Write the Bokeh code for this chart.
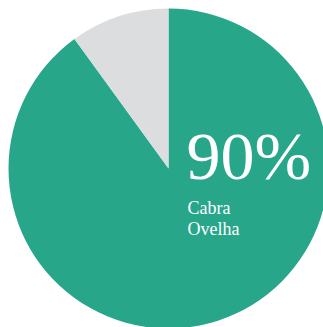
import math
from bokeh.plotting import figure
from bokeh.models import ColumnDataSource
from bokeh.core.properties import value
from bokeh.embed import file_html
from bokeh.resources import INLINE

# data
categories = ["Cabra Ovelha", "Outros"]
values = [90, 10]
colors = ["#27A68A", "#DCDDDF"]
label_lines = ["Cabra", "Ovelha"]

total = sum(values)
main_share = values[0] / total * 2 * math.pi
# main slice clockwise from 12 o'clock, remainder fills the rest
starts = [math.pi / 2 - main_share, math.pi / 2]
ends = [math.pi / 2, math.pi / 2 + (2 * math.pi - main_share)]

W, H = 323, 327
R = 160.0   # px per data unit
CX, CY = 168.0, 168.0  # pie centre in px
p = figure(width=W, height=H, output_backend="svg", toolbar_location=None,
           x_range=(-CX / R, (W - CX) / R), y_range=(CY / R - H / R, CY / R),
           min_border=0)
p.axis.visible = False
p.grid.visible = False
p.outline_line_color = None
p.background_fill_color = "white"
p.border_fill_color = "white"

src = ColumnDataSource(dict(start=starts, end=ends, color=colors, cat=categories))
p.wedge(x=0, y=0, radius=1, start_angle="start", end_angle="end",
        direction="anticlock", fill_color="color", line_color=None, source=src)

p.text(x=[0.112], y=[0.081], text=[f"{values[0]}%"], text_color="white",
       text_font=value("Liberation Serif"), text_font_size="68px",
       text_baseline="alphabetic", text_align="left")
p.text(x=[0.119, 0.119], y=[-0.244, -0.375], text=label_lines, text_color="white",
       text_font=value("Liberation Serif"), text_font_size="18px",
       text_baseline="alphabetic", text_align="left")

open("out.html", "w").write(file_html(p, INLINE))
